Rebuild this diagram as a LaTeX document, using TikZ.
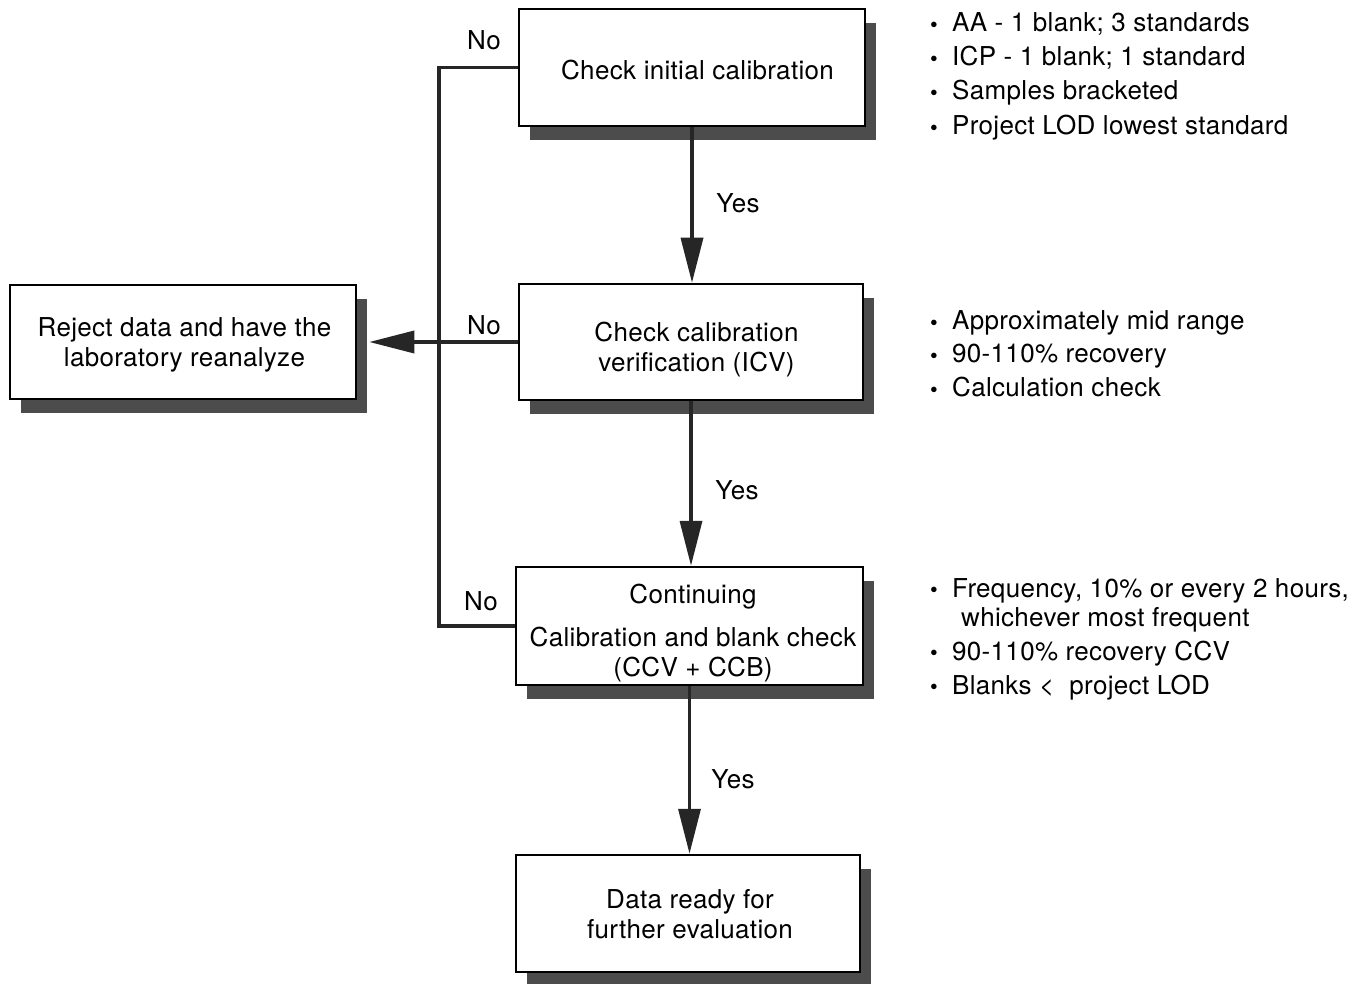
\documentclass[tikz,border=0pt]{standalone}
\usepackage{fontspec}
\setmainfont[LetterSpace=1.2]{TeX Gyre Heros}
\usetikzlibrary{arrows.meta,shadows}
\definecolor{shadowgray}{gray}{0.3}
\definecolor{linegray}{gray}{0.15}
\newcommand\bul{\makebox[23pt][l]{\hspace{1pt}\raisebox{-0.5pt}{\fontsize{22}{22}\selectfont •}}}
\begin{document}
\begin{tikzpicture}[x=1pt,y=-1pt,
  every node/.style={font=\fontsize{26}{30}\selectfont},
  box/.style={draw=black, line width=2.5pt, fill=white, inner sep=0pt,
    drop shadow={shadow xshift=11pt, shadow yshift=-14pt, fill=shadowgray, opacity=1}},
  txt/.style={align=center, inner sep=0pt},
  conn/.style={line width=3.5pt, draw=linegray},
  arr/.style={-{Triangle[length=45pt,width=22pt,fill=linegray]}},
  lbl/.style={inner sep=0pt},
  note/.style={anchor=base west, inner sep=0pt}]
\useasboundingbox (0,0) rectangle (1369,984);
\fill[white] (0,0) rectangle (1369,984);

% boxes
\node[box, minimum width=346pt, minimum height=117pt] (b1) at (692,67.5) {};
\node[box, minimum width=344pt, minimum height=116pt] (b2) at (691,342) {};
\node[box, minimum width=347pt, minimum height=118pt] (b3) at (689.5,626) {};
\node[box, minimum width=344pt, minimum height=117pt] (b4) at (688,913.5) {};
\node[box, minimum width=346pt, minimum height=114pt] (rej) at (183,342) {};

% box texts
\node[txt] (t1) at (697.5,70.5) {Check initial calibration};
\node[txt] (t2) at (696.5,350) {Check calibration\\verification (ICV)};
\node[txt] (t3) at (693,633.5) {Continuing\\[13pt]Calibration and blank check\\(CCV + CCB)};
\node[txt] (t4) at (690,914) {Data ready for\\further evaluation};
\node[txt] (tr) at (184.5,345) {Reject data and have the\\laboratory reanalyze};

% connectors
\coordinate (jx) at (439,0);
\coordinate (rejtip) at ([xshift=12pt]rej.east);
\draw[conn] (b1.west) -- (b1.west -| jx) -- (b3.west -| jx) -- (b3.west);
\draw[conn, arr] (b2.west) -- (rejtip);
\draw[conn, arr] (b1.south) -- (b1.south |- b2.north);
\draw[conn, arr] (b2.south) -- (b2.south |- b3.north);
\draw[conn, arr] (b3.south) -- (b3.south |- b4.north);

% labels
\node[lbl] (no1) at (484,40) {No};
\node[lbl] (no2) at (484,325) {No};
\node[lbl] (no3) at (481,601) {No};
\node[lbl] (yes1) at (738,203) {Yes};
\node[lbl] (yes2) at (737,490) {Yes};
\node[lbl] (yes3) at (733,779) {Yes};

% notes
\node[note] (n11) at (929,32) {\bul AA - 1 blank; 3 standards};
\node[note] (n12) at (929,66) {\bul ICP - 1 blank; 1 standard};
\node[note] (n13) at (929,100) {\bul Samples bracketed};
\node[note] (n14) at (929,135) {\bul Project LOD lowest standard};

\node[note] (n21) at (929,330) {\bul Approximately mid range};
\node[note] (n22) at (929,363) {\bul 90-110\% recovery};
\node[note] (n23) at (929,397) {\bul Calculation check};

\node[note] (n31) at (929,597) {\bul Frequency, 10\% or every 2 hours,};
\node[note] (n32) at (961,626) {whichever most frequent};
\node[note] (n33) at (929,660) {\bul 90-110\% recovery CCV};
\node[note] (n34) at (929,694) {\bul Blanks <\ \ project LOD};
\end{tikzpicture}
\end{document}
